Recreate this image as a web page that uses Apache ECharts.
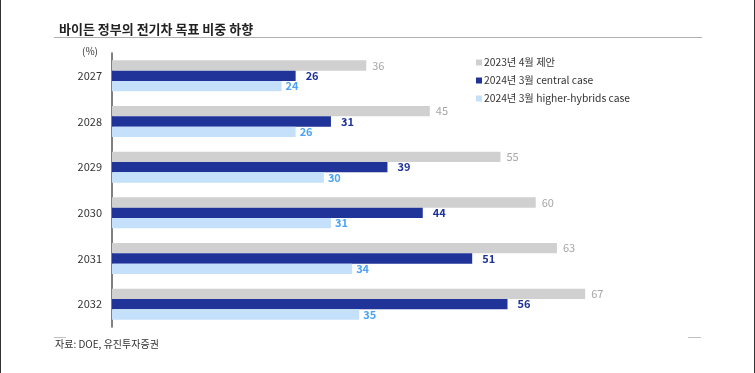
<!DOCTYPE html>
<html><head><meta charset="utf-8">
<script src="https://cdn.jsdelivr.net/npm/echarts@6/dist/echarts.min.js"></script>
<style>html,body{margin:0;padding:0;background:#fff}#c{width:755px;height:373px}</style>
</head><body><div id="c"></div>
<script>
const categories = ['2027','2028','2029','2030','2031','2032'];
const seriesNames = ['2023년 4월 제안','2024년 3월 central case','2024년 3월 higher-hybrids case'];
const proposal2023 = [36,45,55,60,63,67];
const central2024 = [26,31,39,44,51,56];
const hybrids2024 = [24,26,30,31,34,35];

const FONT = '"Noto Sans CJK KR", "Noto Sans", sans-serif';
const chart = echarts.init(document.getElementById('c'));
chart.setOption({
  animation:false,
  textStyle:{fontFamily:FONT},
  grid:{left:112, top:53, width:565, height:274},
  title:{text:'바이든 정부의 전기차 목표 비중 하향', left:54, top:18,
    textStyle:{fontSize:13, fontWeight:'bold', color:'#222', fontFamily:FONT}},
  legend:{orient:'vertical', left:471, top:52, itemWidth:6, itemHeight:6, itemGap:7, icon:'rect',
    textStyle:{fontSize:10.3, color:'#333', lineHeight:11, padding:[0,0,0,-3]},
    data:seriesNames},
  xAxis:{type:'value', min:0, max:80, show:false},
  yAxis:{type:'category', data:categories, inverse:true,
    name:'(%)', nameLocation:'start', nameGap:-3,
    nameTextStyle:{fontSize:10, color:'#333', align:'right', padding:[0,14,0,0], verticalAlign:'bottom'},
    axisLine:{lineStyle:{color:'#555', width:1.5}},
    axisTick:{length:3, lineStyle:{color:'#555', width:1.5}},
    axisLabel:{fontSize:11, color:'#333', margin:10}},
  series:[
    {name:seriesNames[0], type:'bar', data:proposal2023, barGap:'0%', barCategoryGap:'32%',
      itemStyle:{color:'#d0d0d0'},
      label:{show:true, position:'right', distance:6, fontSize:11, color:'#a6a6a6'}},
    {name:seriesNames[1], type:'bar', data:central2024, barGap:'0%', barCategoryGap:'32%',
      itemStyle:{color:'#1f3399'},
      label:{show:true, position:'right', distance:10, fontSize:11, fontWeight:'bold', color:'#1f3399'}},
    {name:seriesNames[2], type:'bar', data:hybrids2024, barGap:'0%', barCategoryGap:'32%',
      itemStyle:{color:'#c5e0fa'},
      label:{show:true, position:'right', distance:4, fontSize:11, fontWeight:'bold', color:'#4da3f5'}}
  ],
  graphic:[
    {type:'rect', shape:{x:0,y:0,width:1,height:373}, style:{fill:'#333'}},
    {type:'rect', shape:{x:754,y:0,width:1,height:373}, style:{fill:'#333'}},
    {type:'line', shape:{x1:54,y1:37.5,x2:702,y2:37.5}, style:{stroke:'#b0b0b0', lineWidth:1}},
    {type:'rect', shape:{x:54,y:337,width:12,height:1}, style:{fill:'#c0c0c0'}},
    {type:'rect', shape:{x:688,y:337,width:13,height:1}, style:{fill:'#c0c0c0'}},
    {type:'text', left:55, top:339, style:{text:'자료: DOE, 유진투자증권', fontSize:10, fill:'#333', fontFamily:FONT}}
  ]
});
</script></body></html>
